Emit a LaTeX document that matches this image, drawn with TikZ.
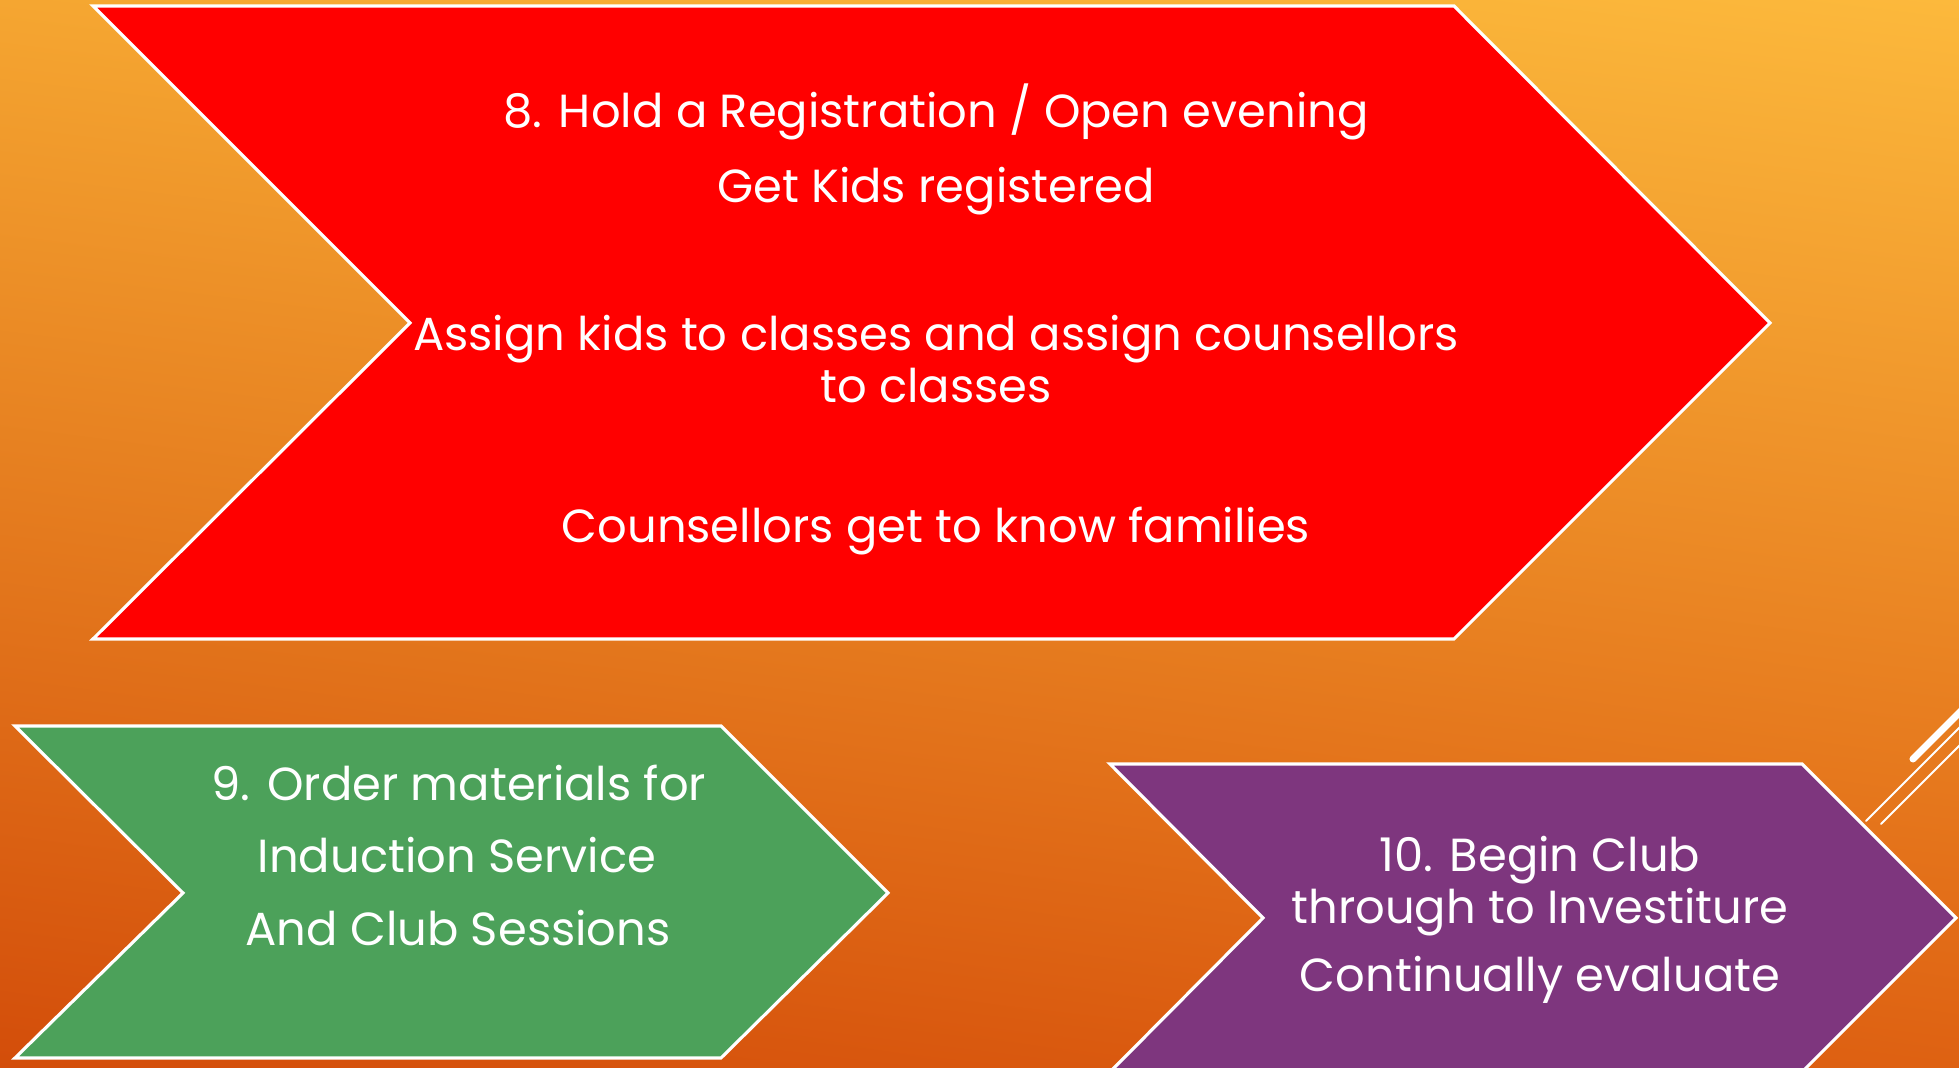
\documentclass[tikz,border=0pt]{standalone}
\usepackage{fontspec}
\setmainfont{Poppins}
\usetikzlibrary{positioning,shadings}
\definecolor{bgUL}{HTML}{F5A631}
\definecolor{bgUR}{HTML}{FCB93C}
\definecolor{bgLL}{HTML}{D34D0A}
\definecolor{bgLR}{HTML}{DE6112}
\definecolor{stepred}{HTML}{FF0000}
\definecolor{stepgreen}{HTML}{4CA15A}
\definecolor{steppurple}{HTML}{7E367E}

\begin{document}
\begin{tikzpicture}[
            x=0.01cm, y=-0.01cm,
            chevron/.style={draw=white, line width=0.9pt, line join=miter},
            steptext/.style={text=white, align=center, inner sep=0pt,
                font=\fontsize{13.2}{14.6}\selectfont},
            deco/.style={draw=white, line cap=round}
        ]

        \useasboundingbox (0,0) rectangle (1959,1068);
        \clip (0,0) rectangle (1959,1068);

        % background
        \shade[upper left=bgUL, upper right=bgUR, lower left=bgLL, lower right=bgLR]
            (0,0) rectangle (1959,1068);

        % decoration top right
        \draw[deco, line width=2pt] (1913,759) -- (1975,697);
        \draw[deco, line width=0.6pt] (1866,821) -- (1975,712);
        \draw[deco, line width=0.6pt] (1881,824) -- (1975,730);

        % step 8
        \draw[chevron, fill=stepred] (93,6) -- (1454,6) -- (1770,323) -- (1454,639)
            -- (93,639) -- (410,323) -- cycle;
        \node[steptext] (hold) at (936,112) {8. Hold a Registration / Open evening};
        \node[steptext] (kids) at (936,191) {Get Kids registered};
        \node[steptext] (assign) at (936,359) {Assign kids to classes and assign counsellors\\to classes};
        \node[steptext] (know) at (936,531) {Counsellors get to know families};

        % step 9
        \draw[chevron, fill=stepgreen] (15,726) -- (721,726) -- (888,893) -- (721,1058)
            -- (15,1058) -- (183,893) -- cycle;
        \node[steptext] (order) at (459,783) {9. Order materials for};
        \node[steptext] (induct) at (457,855) {Induction Service};
        \node[steptext] (club) at (458,928) {And Club Sessions};

        % step 10
        \draw[chevron, fill=steppurple] (1110,764) -- (1802,764) -- (1956,918) -- (1802,1072)
            -- (1110,1072) -- (1263,918) -- cycle;
        \node[steptext] (begin) at (1540,886) {10. Begin Club\\through to Investiture};
        \node[steptext] (eval) at (1540,980) {Continually evaluate};

    \end{tikzpicture}
\end{document}
